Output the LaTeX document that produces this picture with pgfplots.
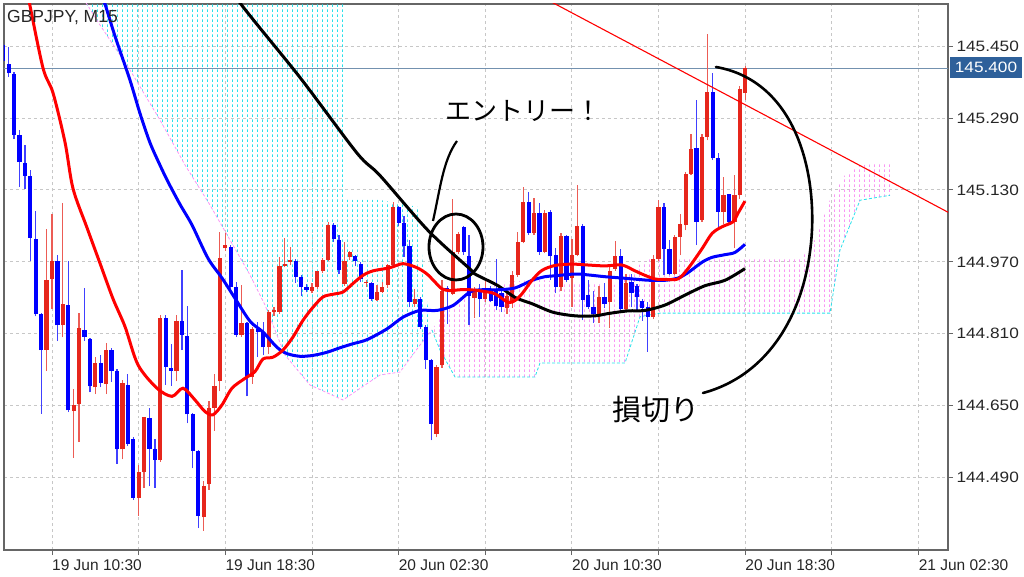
\documentclass[border=0pt]{standalone}
\usepackage{fontspec}
\setmainfont{Liberation Sans}
\newfontfamily\cjk{Noto Sans CJK JP}
\newfontfamily\widefont[FakeStretch=1.15]{Liberation Sans}
\usepackage{pgfplots}
\pgfplotsset{compat=1.18}
\usepackage{pgfplotstable}
\usetikzlibrary{patterns.meta}
\definecolor{candlered}{RGB}{230,38,28}
\definecolor{candleblue}{RGB}{0,0,255}
\definecolor{boxblue}{RGB}{46,96,154}
\definecolor{hline}{RGB}{115,145,175}
\definecolor{cloudcyan}{RGB}{40,225,235}
\definecolor{cloudpink}{RGB}{250,150,245}
\pgfdeclarepattern{
  name=vdash, type=uncolored,
  bottom left={\pgfpoint{0bp}{0bp}}, top right={\pgfpoint{5.416bp}{5bp}},
  tile size={\pgfpoint{5.416bp}{5bp}},
  code={\pgfsetlinewidth{0.9bp}\pgfpathmoveto{\pgfpoint{2.7bp}{0bp}}\pgfpathlineto{\pgfpoint{2.7bp}{3bp}}\pgfusepath{stroke}}
}

\pgfplotstableread{
x o h l c
-9 145.452 145.456 145.413 145.417
-8 145.411 145.448 145.381 145.389
-7 145.387 145.392 145.243 145.253
-6 145.251 145.263 145.137 145.192
-5 145.190 145.229 145.133 145.162
-4 145.161 145.174 144.971 145.024
-3 145.021 145.084 144.849 144.853
-2 144.855 144.857 144.632 144.774
1 144.973 144.985 144.794 144.829
3 144.875 144.971 144.636 144.640
6 144.818 144.911 144.794 144.803
7 144.798 144.800 144.680 144.693
9 144.745 144.764 144.691 144.701
11 144.774 144.778 144.703 144.727
12 144.727 144.731 144.521 144.553
14 144.696 144.720 144.560 144.566
15 144.576 144.580 144.441 144.445
18 144.623 144.646 144.471 144.554
19 144.554 144.576 144.468 144.530
21 144.846 144.852 144.697 144.737
22 144.734 144.787 144.695 144.728
24 144.839 144.952 144.774 144.808
25 144.806 144.871 144.611 144.631
26 144.631 144.633 144.511 144.550
27 144.550 144.552 144.378 144.406
33 145.004 145.008 144.908 144.913
34 144.913 144.926 144.804 144.808
36 144.834 144.836 144.671 144.715
38 144.821 144.836 144.758 144.814
39 144.814 144.836 144.762 144.780
45 144.973 144.977 144.923 144.937
46 144.936 144.940 144.893 144.914
47 144.915 144.920 144.902 144.908
52 145.053 145.056 145.015 145.021
53 145.019 145.029 144.943 144.952
56 144.982 144.986 144.960 144.973
57 144.966 144.970 144.925 144.932
59 144.923 144.925 144.884 144.888
64 145.091 145.095 145.050 145.056
65 145.056 145.073 144.981 145.006
66 145.006 145.019 144.869 144.880
68 144.888 144.892 144.821 144.825
69 144.825 144.829 144.732 144.752
70 144.751 144.755 144.573 144.610
73 144.912 144.917 144.832 144.906
76 145.047 145.050 144.985 144.991
77 144.984 145.030 144.830 144.895
79 144.910 144.921 144.847 144.888
81 144.910 144.917 144.880 144.884
82 144.906 144.977 144.862 144.872
83 144.900 144.905 144.858 144.870
88 145.104 145.126 145.030 145.034
90 145.078 145.100 144.986 144.993
92 145.080 145.085 144.930 144.982
93 144.985 145.000 144.900 144.913
95 145.028 145.030 144.925 144.930
98 145.050 145.055 144.840 144.885
99 144.897 144.930 144.865 144.869
100 144.869 144.906 144.835 144.854
102 144.891 144.924 144.868 144.876
105 144.983 144.998 144.861 144.865
107 144.925 144.944 144.869 144.900
108 144.917 144.920 144.861 144.891
109 144.883 144.888 144.839 144.868
110 144.870 144.880 144.770 144.848
113 145.092 145.100 144.940 144.999
114 144.999 145.018 144.940 144.944
119 145.223 145.329 145.007 145.059
122 145.348 145.389 145.196 145.200
123 145.200 145.211 145.044 145.081
125 145.120 145.122 145.055 145.059
}\bluecandles

\pgfplotstableread{
x o h l c
-1 144.774 145.042 144.727 144.930
0 144.932 145.076 144.865 144.973
2 144.829 145.101 144.802 144.877
4 144.638 144.687 144.534 144.652
5 144.653 144.857 144.569 144.824
8 144.691 144.758 144.676 144.745
10 144.699 144.790 144.676 144.774
13 144.553 144.707 144.531 144.701
16 144.445 144.519 144.406 144.503
17 144.503 144.626 144.467 144.624
20 144.530 144.852 144.526 144.846
23 144.728 144.852 144.704 144.839
28 144.402 144.482 144.372 144.471
29 144.476 144.660 144.463 144.645
30 144.645 144.720 144.594 144.693
31 144.704 145.037 144.682 144.978
32 145.000 145.034 144.995 145.008
35 144.808 144.919 144.804 144.834
37 144.715 144.825 144.699 144.821
40 144.780 144.862 144.766 144.858
41 144.858 144.870 144.850 144.862
42 144.858 144.980 144.854 144.960
43 144.960 145.023 144.958 144.966
44 144.969 145.002 144.962 144.974
48 144.906 144.922 144.900 144.914
49 144.914 144.950 144.910 144.949
50 144.949 144.978 144.945 144.974
51 144.974 145.058 144.972 145.053
54 144.921 145.014 144.917 144.973
55 144.980 144.994 144.975 144.991
58 144.922 144.930 144.915 144.926
60 144.886 144.918 144.884 144.903
61 144.903 144.925 144.900 144.915
62 144.918 144.966 144.912 144.962
63 144.962 145.103 144.958 145.091
67 144.877 144.910 144.870 144.888
71 144.588 144.740 144.580 144.736
72 144.740 144.929 144.735 144.905
74 144.899 145.110 144.896 144.991
75 144.991 145.036 144.987 145.032
78 144.890 144.915 144.846 144.905
80 144.888 144.929 144.880 144.910
84 144.868 144.900 144.855 144.893
85 144.882 144.949 144.867 144.941
86 144.941 145.037 144.937 145.015
87 145.015 145.137 145.011 145.104
89 145.034 145.111 145.030 145.078
91 144.993 145.085 144.989 145.078
94 144.913 145.035 144.905 145.028
96 144.935 145.020 144.870 144.986
97 144.986 145.140 144.982 145.050
101 144.854 144.917 144.835 144.891
103 144.880 144.961 144.823 144.950
104 144.955 145.016 144.950 144.982
106 144.865 144.944 144.861 144.924
111 144.848 144.985 144.844 144.977
112 144.977 145.107 144.972 145.092
115 144.944 145.029 144.940 145.026
116 145.026 145.077 144.985 145.055
117 145.051 145.170 145.040 145.166
118 145.166 145.255 145.163 145.222
120 145.063 145.255 145.059 145.248
121 145.248 145.477 145.240 145.348
124 145.081 145.159 145.055 145.118
126 145.059 145.163 145.000 145.118
127 145.118 145.360 145.110 145.355
128 145.345 145.405 145.330 145.400
}\redcandles

\begin{document}
\begin{tikzpicture}
\useasboundingbox (-4bp,-27bp) rectangle (1020bp,550bp);
\begin{axis}[
  at={(0,0)}, anchor=south west,
  scale only axis, width=944bp, height=546bp,
  xmin=-8.863, xmax=165.44, ymin=144.3293, ymax=145.5434,
  axis line style={draw=black!60, line width=1.2bp},
  ytick={144.49,144.65,144.81,144.97,145.13,145.29,145.45},
  ytick pos=right, yticklabel pos=right,
  /pgf/number format/assume math mode=true,
  yticklabel style={/pgf/number format/.cd, fixed, fixed zerofill, precision=3, 1000 sep={}, /tikz/.cd,
    font=\widefont\fontsize{15bp}{18bp}\selectfont, text=black!85},
  xtick={0,32,...,160},
  xticklabels={19 Jun 10:30, 19 Jun 18:30, 20 Jun 02:30, 20 Jun 10:30, 20 Jun 18:30, 21 Jun 02:30},
  xtick pos=bottom,
  xticklabel style={anchor=north west, inner xsep=0pt, yshift=-1bp,
    font=\fontsize{15.5bp}{18bp}\selectfont, text=black!85},
  minor xtick={16,48,...,144},
  grid=both,
  major grid style={dashed, black!22, line width=0.9bp},
  minor grid style={dashed, black!22, line width=0.9bp},
  tick align=outside, major tick length=5bp, minor tick length=5bp,
  tick style={black!60, line width=0.9bp},
  clip=true,
]
% Ichimoku cloud (bullish part)
\addplot[draw=none, pattern=vdash, pattern color=cloudcyan] coordinates {
(4.80,145.5745) (54.10,145.5745) (54.47,145.1076) (60.56,145.1076) (67.58,145.092)
(68.87,144.9074) (70.16,144.8185) (67.95,144.7851) (64.25,144.725) (60.56,144.7184)
(57.79,144.6962) (53.73,144.6628) (47.64,144.6962) (43.02,144.7629) (39.33,144.8741)
(36.56,144.9408) (32.87,145.0186) (29.17,145.0964) (24.56,145.1854) (19.94,145.2854)
(14.40,145.3966) (8.86,145.4967) (4.80,145.5745)} --cycle;
\addplot[cloudpink, densely dashed, line width=0.8bp] coordinates {
(4.80,145.5745) (8.86,145.4967) (14.40,145.3966) (19.94,145.2854) (24.56,145.1854)
(29.17,145.0964) (32.87,145.0186) (36.56,144.9408) (39.33,144.8741) (43.02,144.7629)
(47.64,144.6962) (53.73,144.6628) (57.79,144.6962) (60.56,144.7184) (64.25,144.725)
(67.95,144.7851) (70.16,144.8185)};
% Ichimoku cloud (bearish part)
\addplot[draw=none, pattern=vdash, pattern color=cloudpink] coordinates {
(70.16,144.8185) (72.56,144.863) (75.33,144.885) (79.02,144.903) (82.72,144.925)
(90.10,144.930) (97.49,144.923) (104.87,144.919) (107.64,144.957) (110.41,144.979)
(138.10,144.979) (140.88,145.019) (143.65,145.108) (146.42,145.163) (149.19,145.185)
(154.73,145.190) (154.73,145.118) (149.19,145.107) (145.49,144.996) (143.65,144.856)
(112.26,144.856) (108.57,144.848) (105.80,144.745) (90.10,144.745) (89.17,144.714)
(74.41,144.714) (71.64,144.774) (70.16,144.8185)} --cycle;
\addplot[cloudcyan, densely dashed, line width=0.8bp] coordinates {
(70.16,144.8185) (71.64,144.774) (74.41,144.714) (89.17,144.714) (90.10,144.745)
(105.80,144.745) (108.57,144.848) (112.26,144.856) (143.65,144.856) (145.49,144.996)
(149.19,145.107) (154.73,145.118)};
% 145.400 line
\addplot[hline, line width=1bp] coordinates {(-10,145.400) (170,145.400)};
% candles: wicks and bodies
\addplot[draw=none, mark=none, forget plot, error bars/.cd, y dir=plus, y explicit, error mark=none,
  error bar style={draw=candleblue!75, solid, line width=1.2bp}]
  table[x=x, y=l, y error plus expr={\thisrow{h}-\thisrow{l}}] {\bluecandles};
\addplot[draw=none, mark=none, forget plot, error bars/.cd, y dir=plus, y explicit, error mark=none,
  error bar style={draw=candlered!75, solid, line width=1.2bp}]
  table[x=x, y=l, y error plus expr={\thisrow{h}-\thisrow{l}}] {\redcandles};
\addplot[draw=none, mark=none, forget plot, error bars/.cd, y dir=plus, y explicit, error mark=none,
  error bar style={draw=candleblue, solid, line width=4.2bp}]
  table[x=x, y expr={min(\thisrow{o},\thisrow{c})}, y error plus expr={max(abs(\thisrow{c}-\thisrow{o}),0.0025)}] {\bluecandles};
\addplot[draw=none, mark=none, forget plot, error bars/.cd, y dir=plus, y explicit, error mark=none,
  error bar style={draw=candlered, solid, line width=4.2bp}]
  table[x=x, y expr={min(\thisrow{o},\thisrow{c})}, y error plus expr={max(abs(\thisrow{c}-\thisrow{o}),0.0025)}] {\redcandles};
% black moving average
\addplot[black, line width=3bp, smooth] coordinates {
(32.87,145.60) (34.34,145.552) (45.79,145.38) (56.31,145.212) (60.56,145.162) (69.42,145.040)
(77.18,144.954) (78.10,144.943) (82.35,144.917) (85.49,144.891) (88.63,144.877) (92.50,144.858)
(96.57,144.850) (100.26,144.850) (102.66,144.855) (106.35,144.861) (109.49,144.862)
(113.18,144.874) (116.88,144.896) (120.57,144.917) (124.26,144.929) (127.95,144.955)};
% blue moving average
\addplot[candleblue, line width=3bp, smooth] coordinates {
(8.86,145.57) (9.79,145.543) (11.63,145.472) (14.40,145.374) (16.25,145.30) (18.09,145.235)
(19.94,145.185) (21.42,145.148) (23.63,145.098) (25.85,145.052) (28.80,144.978) (31.39,144.934)
(33.79,144.889) (36.56,144.838) (38.96,144.814) (41.54,144.780) (43.39,144.766) (45.79,144.760)
(48.19,144.762) (50.78,144.769) (53.18,144.779) (55.58,144.788) (58.16,144.797) (61.85,144.821)
(64.81,144.847) (67.95,144.862) (71.09,144.862) (74.04,144.873) (77.18,144.903) (79.39,144.908)
(82.35,144.908) (85.49,144.912) (88.63,144.929) (91.03,144.937) (92.87,144.939) (96.57,144.943)
(98.97,144.941) (102.10,144.937) (105.24,144.934) (108.20,144.931) (110.41,144.929)
(113.18,144.929) (115.58,144.934) (117.43,144.946) (120.01,144.969) (121.86,144.980)
(124.26,144.986) (126.11,144.991) (127.95,145.009)};
% red moving average
\addplot[red, line width=3bp, smooth] coordinates {
(-4.99,145.60) (-4.25,145.551) (-1.66,145.401) (0.18,145.346) (2.40,145.236) (3.88,145.133)
(6.46,145.046) (8.86,144.967) (11.26,144.888) (13.48,144.826) (15.88,144.741) (19.39,144.689)
(22.16,144.671) (24.19,144.689) (26.40,144.663) (28.25,144.637) (29.73,144.630) (31.39,144.652)
(33.23,144.689) (35.64,144.711) (37.48,144.726) (38.96,144.754) (40.80,144.758) (42.65,144.774)
(44.50,144.803) (46.34,144.840) (48.19,144.869) (50.04,144.892) (51.88,144.898) (53.73,144.903)
(55.58,144.922) (57.42,144.940) (59.27,144.950) (62.41,144.957) (64.81,144.966) (67.39,144.957)
(69.24,144.943) (70.72,144.925) (72.01,144.910) (73.49,144.906) (75.33,144.908) (77.18,144.908)
(79.39,144.905) (81.79,144.899) (84.19,144.880) (85.49,144.884) (86.78,144.899) (88.63,144.929)
(90.47,144.951) (92.87,144.962) (96.01,144.965) (98.97,144.963) (102.10,144.961) (105.24,144.963)
(107.64,144.950) (109.49,144.940) (111.34,144.932) (113.18,144.931) (115.58,144.932)
(117.43,144.955) (120.01,144.999) (121.86,145.033) (123.71,145.048) (125.74,145.059)
(126.66,145.078) (127.95,145.105)};
% trend line
\addplot[red, line width=1.1bp] coordinates {(90.10,145.5614) (167.65,145.0663)};
\end{axis}
\begin{scope}[shift={(-4bp,550bp)}, x=1bp, y=-1bp]
  \node[anchor=north west, inner sep=0pt, font=\fontsize{17.5bp}{20bp}\selectfont, text=black!85] at (7,10) {GBPJPY, M15};
  \fill[boxblue] (950,57) rectangle (1022,78);
  \node[text=white, inner sep=0pt, font=\widefont\fontsize{15bp}{18bp}\selectfont] at (986,67.5) {145.400};
  \draw[line width=2.8bp] (456,247) ellipse [x radius=27, y radius=33];
  \draw[line width=2.2bp] (433,221) .. controls (440,190) and (443,160) .. (457,141);
  \node[anchor=west, inner sep=0pt, font=\cjk\fontsize{26bp}{30bp}\selectfont] at (445,111) {エントリー！};
  \node[inner sep=0pt, font=\cjk\fontsize{29bp}{32bp}\selectfont] at (656,410) {損切り};
  \draw[line width=2.6bp, line cap=round] (716,67) .. controls (790,80) and (815,160) .. (812,230) .. controls (808,310) and (770,375) .. (703,393);
\end{scope}
\end{tikzpicture}
\end{document}
